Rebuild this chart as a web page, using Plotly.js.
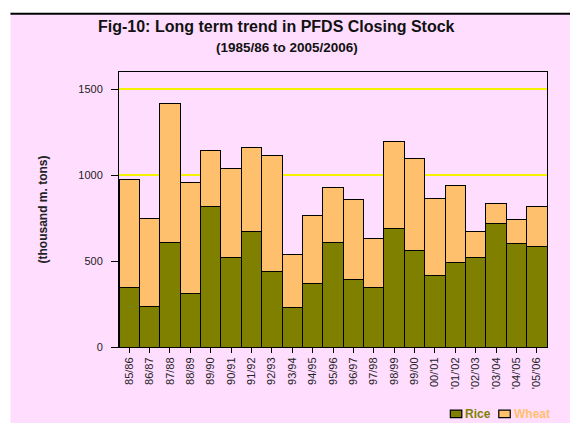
<!DOCTYPE html>
<html>
<head>
<meta charset="utf-8">
<script src="https://cdn.plot.ly/plotly-3.0.1.min.js"></script>
<style>html,body{margin:0;padding:0;background:#fff;}#chart{width:570px;height:423px;}</style>
</head>
<body>
<div id="chart"></div>
<script>
var years = ["85/86","86/87","87/88","88/89","89/90","90/91","91/92","92/93","93/94","94/95","95/96","96/97","97/98","98/99","99/00","00/'01","'01/'02","'02/'03","'03/'04","'04/'05","'05/'06"];
var rice  = [349, 236, 608, 310, 816, 523, 674, 440, 231, 372, 608, 391, 349, 690, 560, 417, 494, 521, 719, 603, 585];
var wheat = [626, 512, 807, 649, 329, 514, 485, 674, 308, 395, 322, 468, 281, 506, 535, 447, 446, 151, 116, 141, 231];
var seriesNames = ["Rice", "Wheat"];

var riceColor = "#808000", wheatColor = "#FFC06E", pink = "#FFDDFF";
var font = "Liberation Sans, Arial, sans-serif";

var traces = [
  {type: "bar", x: years, y: rice, name: seriesNames[0],
   marker: {color: riceColor, line: {color: "#000", width: 1}}},
  {type: "bar", x: years, y: wheat, name: seriesNames[1],
   marker: {color: wheatColor, line: {color: "#000", width: 1}}}
];

var L = 118.7, R = 547.3, T = 72.3, B = 347;
var W = R - L, H = B - T;
function px(x){ return (x - L) / W; }
function py(y){ return (B - y) / H; }

var legendItems = [
  {name: seriesNames[0], color: riceColor, bx0: 450.5, bx1: 462, tx: 463.5},
  {name: seriesNames[1], color: wheatColor, bx0: 499, bx1: 510.5, tx: 512}
];

var shapes = [
  {type: "rect", xref: "paper", yref: "paper", x0: px(10), x1: px(571), y0: py(424), y1: py(13),
   fillcolor: pink, line: {width: 0}, layer: "below"},
  {type: "line", xref: "paper", yref: "paper", x0: px(10), x1: px(571), y0: py(14), y1: py(14),
   line: {color: "#000", width: 2}, layer: "below"}
];
var annotations = [
  {xref: "paper", yref: "paper", x: px(276), y: py(27), xanchor: "center", yanchor: "middle", showarrow: false,
   text: "<b>Fig-10: Long term trend in PFDS Closing Stock</b>", font: {family: font, size: 16, color: "#111"}},
  {xref: "paper", yref: "paper", x: px(287), y: py(48), xanchor: "center", yanchor: "middle", showarrow: false,
   text: "<b>(1985/86 to 2005/2006)</b>", font: {family: font, size: 13.5, color: "#111"}}
];
legendItems.forEach(function(it){
  shapes.push({type: "rect", xref: "paper", yref: "paper", x0: px(it.bx0), x1: px(it.bx1), y0: py(417.5), y1: py(410),
               fillcolor: it.color, line: {color: "#000", width: 1.2}});
  annotations.push({xref: "paper", yref: "paper", x: px(it.tx), y: py(413.5), xanchor: "left", yanchor: "middle",
                    showarrow: false, text: "<b>" + it.name + "</b>", font: {family: font, size: 12, color: it.color}});
});

var layout = {
  width: 570, height: 423,
  margin: {l: L, r: 570 - R, t: T, b: 423 - B, pad: 0},
  paper_bgcolor: "#ffffff",
  plot_bgcolor: pink,
  barmode: "stack",
  bargap: 0,
  showlegend: false,
  font: {family: font, size: 11, color: "#222"},
  xaxis: {type: "category", showline: true, linecolor: "#000", linewidth: 1, mirror: true,
          ticks: "outside", ticklen: 5, tickcolor: "#000", tickangle: -90, automargin: false,
          tickfont: {family: font, size: 11, color: "#222"}, showgrid: false, fixedrange: true},
  yaxis: {range: [0, 1600], dtick: 500, tick0: 0, showline: true, linecolor: "#000", linewidth: 1, mirror: true,
          ticks: "outside", ticklen: 7, tickcolor: "#000", ticklabelstandoff: 6, automargin: false,
          tickfont: {family: font, size: 11, color: "#222"},
          showgrid: true, gridcolor: "#F5F200", gridwidth: 1.5, zeroline: false,
          title: {text: "<b>(thousand m. tons)</b>", font: {family: font, size: 12, color: "#222"}, standoff: 28},
          fixedrange: true},
  shapes: shapes,
  annotations: annotations
};

Plotly.newPlot("chart", traces, layout, {displayModeBar: false, staticPlot: true});
</script>
</body>
</html>
